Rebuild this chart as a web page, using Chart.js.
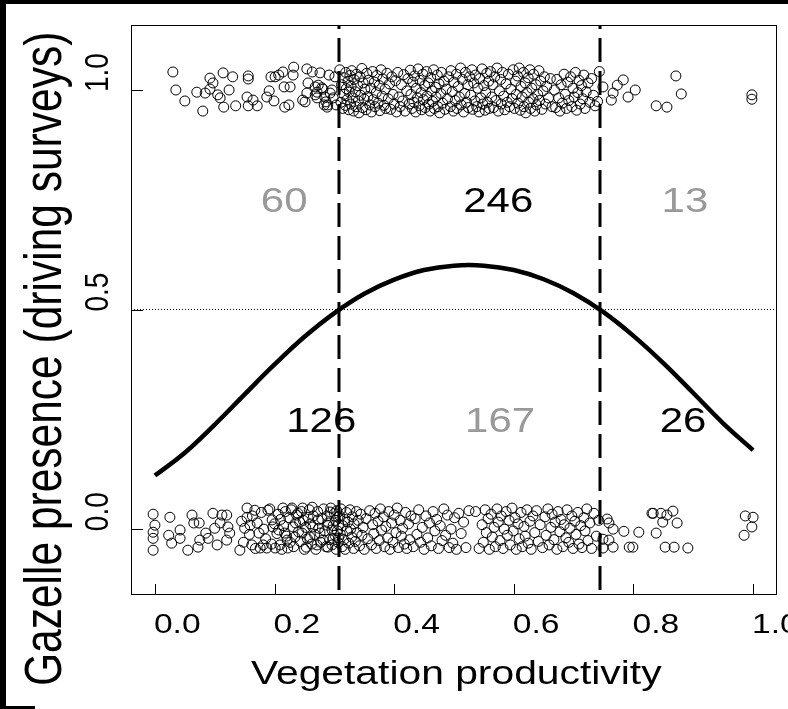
<!DOCTYPE html>
<html>
<head>
<meta charset="utf-8">
<script src="https://cdn.jsdelivr.net/npm/chart.js@4.4.1/dist/chart.umd.min.js"></script>
<style>
  body { margin: 0; background: #000; width: 788px; height: 709px; overflow: hidden; position: relative; }
  #chart { position: absolute; left: 6px; top: 4px; width: 782px; height: 705px; background: #fff; }
  #corner { position: absolute; left: 0; top: 706px; width: 35px; height: 3px; background: #000; }
</style>
</head>
<body>
<canvas id="chart" width="782" height="705"></canvas>
<div id="corner"></div>
<script>
// axis ticks
const xTicks = [0, 0.2, 0.4, 0.6, 0.8, 1.0];
const xTickLabels = ["0.0", "0.2", "0.4", "0.6", "0.8", "1.0"];
const yTicks = [0, 0.5, 1.0];
const yTickLabels = ["0.0", "0.5", "1.0"];
const xTitle = "Vegetation productivity";
const yTitle = "Gazelle presence (driving surveys)";

// thresholds where the fitted curve crosses 0.5
const thresholds = [0.3077, 0.7441];
const cutoff = 0.5;

// counts per zone
const countLabels = ["60", "246", "13", "126", "167", "26"];
const countX = [0.216, 0.574, 0.886, 0.278, 0.577, 0.883];
const countY = [0.75, 0.75, 0.75, 0.25, 0.25, 0.25];
const countCorrect = [false, true, false, true, false, true];

// fitted curve
const curveX = [0, 0.05, 0.1, 0.15, 0.2, 0.25, 0.3, 0.35, 0.4, 0.45, 0.5, 0.55, 0.6, 0.65, 0.7, 0.75, 0.8, 0.85, 0.9, 0.95, 1.0];
const curveY = [0.122, 0.174, 0.238, 0.307, 0.375, 0.438, 0.492, 0.536, 0.568, 0.590, 0.600, 0.600, 0.590, 0.569, 0.537, 0.494, 0.440, 0.378, 0.310, 0.241, 0.180];

// surveys with gazelles (jittered around 1)
const presencePoints = [
  [.030,1.041],[.035,1.000],[.050,.975],[.070,.995],[.080,.952],[.084,.993],[.092,1.027],[.097,1.016],[.092,1.002],[.105,.989],
  [.109,.982],[.114,1.039],[.115,.961],[.124,1.000],[.130,1.030],[.135,.964],[.156,1.032],[.156,1.025],[.154,.984],[.156,.964],
  [.164,.977],[.171,.964],[.187,.984],[.191,.998],[.194,1.030],[.199,.975],[.201,1.030],[.207,1.034],[.214,1.041],[.217,.961],
  [.216,1.007],[.224,.966],[.226,1.007],[.232,1.052],[.231,1.034],[.247,.977],[.254,1.048],[.256,1.016],[.263,1.041],[.254,.993],
  [.268,.989],[.271,.995],[.271,.982],[.279,1.005],[.284,.984],[.288,.961],[.289,.966],[.291,1.034],[.296,1.000],[.298,.982],
  [.273,1.011],[.283,.966],[.286,.973],[.281,1.002],[.293,.993],[.301,1.030],[.303,.966],[.251,.973],[.268,1.007],[.276,1.039],
  [.309,1.046],[.311,.972],[.312,1.012],[.314,.958],[.315,1.028],[.316,.990],[.318,.965],[.319,1.040],[.320,1.003],[.321,.978],
  [.323,1.020],[.324,.955],[.325,.995],[.326,1.033],
  [.327,.968],[.328,1.008],[.329,1.044],[.331,.982],[.332,.952],[.333,1.024],[.335,.996],[.336,.962],[.337,1.036],[.339,1.010],
  [.340,.975],[.341,.948],[.343,1.030],[.344,.988],[.346,1.049],[.347,.960],[.348,1.016],[.350,.979],[.351,1.002],[.353,.955],
  [.354,1.038],[.356,.985],[.357,1.022],[.359,.966],
  [.361,1.004],[.362,.950],[.364,1.042],[.365,.978],[.367,1.018],[.368,.962],[.370,.994],[.371,1.033],[.373,.970],[.375,1.010],
  [.376,.953],[.378,1.046],[.380,.986],[.381,1.025],[.383,.965],[.385,1.002],[.386,.958],[.388,1.038],[.390,.980],[.392,1.014],
  [.394,.956],[.396,1.030],[.398,.990],[.400,.968],[.402,1.021],[.404,.950],
  [.406,1.040],[.408,.984],[.410,.962],[.412,1.012],[.414,.975],[.416,1.035],[.418,.952],[.421,.998],[.423,1.026],[.425,.968],
  [.427,1.045],[.428,.990],[.430,.958],[.431,1.018],[.433,.972],[.434,1.032],[.436,.950],[.437,1.004],[.439,.982],[.440,1.048],
  [.442,.964],[.443,1.022],[.445,.994],[.446,.955],[.448,1.036],[.449,.978],[.451,1.010],[.452,.960],[.454,1.042],[.455,.986],
  [.457,1.016],[.458,.968],[.460,.952],[.461,1.028],[.463,.998],[.464,.974],[.466,1.046],[.467,.958],[.469,1.006],[.470,.984],
  [.472,1.034],[.473,.962],[.475,1.014],[.476,.948],[.478,.992],[.479,1.040],[.481,.970],[.483,1.020],[.485,.956],[.487,1.002],
  [.489,.980],[.491,1.030],
  [.494,.962],[.495,1.044],[.497,.996],[.499,.952],[.500,1.018],[.502,.976],[.504,1.036],[.505,.958],[.507,1.008],[.509,.984],
  [.511,1.050],[.512,.966],[.514,1.024],[.516,.950],[.518,.992],[.519,1.040],[.521,.972],[.523,1.012],[.524,.960],[.526,1.030],
  [.528,.988],[.530,1.046],[.531,.956],[.533,1.016],[.535,.975],[.536,1.034],[.538,.962],[.540,1.004],[.542,.950],[.543,1.026],
  [.545,.982],[.547,1.048],[.548,.968],[.550,1.010],[.552,.954],[.553,.994],[.555,1.038],[.556,.972],[.558,1.020],[.559,.958],
  [.561,1.042],[.563,.984],[.565,1.012],[.566,.960],[.568,1.030],[.570,.976],[.572,1.050],[.574,.952],[.576,.998],[.578,1.024],
  [.579,.968],[.581,1.040],[.583,.986],[.585,.955],[.587,1.014],[.589,.972],[.591,1.036],[.593,.962],[.595,1.002],[.597,.980],
  [.599,1.046],[.601,.958],[.603,1.020],[.604,.990],
  [.606,1.032],[.607,.970],[.609,1.050],[.611,.954],[.612,1.008],[.614,.984],[.616,1.040],[.617,.962],[.619,1.016],[.620,.948],
  [.622,.994],[.624,1.028],[.625,.972],[.627,1.046],[.628,.958],[.630,1.004],[.632,.980],[.633,1.036],[.635,.952],[.637,1.012],
  [.638,.966],[.640,.990],[.642,1.044],[.643,.976],[.645,1.020],[.647,.956],[.649,.998],[.651,1.030],[.653,.968],[.655,1.008],
  [.658,.982],[.661,1.026],[.664,.962],
  [.668,1.000],[.670,.960],[.672,1.024],[.675,.982],[.677,.952],[.679,1.012],[.681,.970],[.684,1.036],[.686,.990],[.688,.958],
  [.690,1.018],[.692,.976],[.695,1.030],[.697,.962],[.699,1.004],[.701,.984],[.703,1.040],[.705,.954],[.707,.994],[.709,1.022],
  [.711,.968],[.713,1.010],[.715,.980],[.717,1.034],[.719,.958],[.721,.996],[.724,1.016],[.727,.972],[.730,1.026],[.733,.988],
  [.736,.964],[.740,.974],[.743,1.042],
  [.749,1.007],[.763,.977],[.766,.993],[.773,1.011],[.783,1.023],[.791,.984],[.803,1.000],[.838,.964],[.856,.961],[.871,1.032],
  [.880,.991],[.998,.989],[.998,.979]
];

// surveys without gazelles (jittered around 0)
const absencePoints = [
  [-.003,.034],[0,.009],[-.003,-.007],[-.003,-.021],[-.003,-.048],[.025,.027],[.023,-.014],[.028,-.032],[.042,-.002],[.042,-.021],
  [.055,-.048],[.062,.032],[.065,.014],[.072,-.041],[.074,.014],[.075,-.025],[.085,-.009],[.089,-.021],[.097,.036],[.100,.002],
  [.104,-.036],[.109,.014],[.112,.032],[.120,.032],[.122,.005],[.125,-.009],[.120,-.025],[.142,-.048],[.154,.048],[.154,.027],
  [.159,.009],[.162,-.036],[.167,.043],[.171,.014],[.174,-.009],[.176,-.043],[.181,-.036],[.187,-.043],[.189,.043],[.196,.021],
  [.197,.005],[.201,-.043],[.207,-.002],[.209,-.036],[.214,.048],[.217,-.009],[.221,-.025],[.222,-.043],[.229,.048],[.231,.005],
  [.234,-.018],[.239,.036],[.242,.016],[.246,-.009],[.247,.048],[.253,-.041],[.256,.027],[.259,-.018],[.263,.050],[.264,.005],
  [.271,-.036],[.273,.021],[.276,-.009],[.281,-.025],[.288,.009],[.289,-.041],[.293,.039],[.296,-.002],[.298,-.021],
  [.145,.018],[.148,-.030],[.150,.002],[.158,-.012],[.163,.030],[.168,-.044],[.178,.038],[.182,.000],[.185,-.022],[.192,.046],
  [.195,-.034],[.200,.012],[.204,-.010],[.206,.034],[.210,.022],[.212,-.046],[.215,.008],[.218,.040],[.220,-.016],[.224,.026],
  [.226,-.030],[.228,.044],[.232,-.040],[.235,.014],[.237,.032],[.240,-.006],[.243,-.028],[.245,.040],[.248,.020],[.250,-.046],
  [.252,.004],[.255,-.022],[.258,.044],[.260,.012],[.262,-.034],[.265,.030],[.267,-.012],[.269,-.046],[.272,.040],[.274,.002],
  [.277,-.030],[.279,.024],[.282,.046],[.284,-.004],[.286,-.040],[.288,.030],[.290,.014],[.292,-.024],[.294,.048],[.296,-.036],
  [.298,.008],[.300,.036],[.301,-.014],[.302,.020],[.303,-.046],[.304,.042],[.305,-.004],[.306,.028],[.306,-.030],[.307,.010],
  [.307,-.020],
  [.309,.030],[.310,-.012],[.311,.046],[.313,-.040],[.314,.008],[.316,-.024],[.317,.022],[.318,-.046],[.320,.038],[.321,-.004],
  [.323,.016],[.324,-.032],[.326,.044],[.327,.000],[.329,-.018],[.330,.028],[.332,-.044],[.333,.012],[.335,-.028],[.337,.040],
  [.338,-.008],[.340,.020],[.342,-.038],[.344,.034],[.346,-.014],[.348,.004],[.350,-.046],[.353,.024],[.356,-.022],[.359,.042],
  [.362,-.036],[.364,.010],[.366,-.010],[.368,.036],[.370,-.044],[.373,.018],[.375,-.026],[.377,.046],[.379,-.002],[.382,.028],
  [.384,-.040],[.386,.006],[.389,-.020],[.391,.040],[.393,-.046],[.396,.014],[.398,-.030],[.400,.032],[.403,-.008],[.405,.048],
  [.407,-.042],[.410,.020],[.412,-.016],[.414,.002],[.417,-.034],[.419,.038],[.421,-.044],[.424,.012],[.426,-.024],[.428,.030],
  [.432,-.040],[.435,.024],[.438,-.012],[.441,.044],[.444,-.030],[.447,.004],[.450,-.046],[.453,.030],[.456,-.020],[.459,.014],
  [.462,-.038],[.465,.040],[.468,-.004],[.471,.022],[.474,-.044],[.477,.008],[.480,-.026],[.483,.046],[.486,-.014],[.489,.032],
  [.492,-.042],[.495,.000],[.498,-.032],[.501,.026],[.504,-.046],[.508,.036],[.512,-.010],[.516,.016],[.520,-.042],[.525,.042],
  [.536,.040],[.542,-.044],
  [.547,.010],[.549,-.030],[.552,.044],[.554,-.008],[.557,.024],[.559,-.046],[.562,.034],[.564,-.018],[.567,.004],[.569,-.040],
  [.572,.046],[.574,.016],[.577,-.026],[.579,.030],[.582,-.044],[.584,.000],[.587,.040],[.589,-.014],[.592,.020],[.594,-.036],
  [.597,.048],[.599,-.004],[.602,.026],[.604,-.046],[.607,.012],[.609,-.022],[.612,.038],[.614,-.040],[.617,.006],[.619,-.016],
  [.622,.044],[.624,-.032],[.627,.018],[.629,-.046],[.632,.030],[.635,-.008],[.638,.042],[.641,-.028],[.644,.010],[.648,-.042],
  [.652,.028],[.654,-.014],[.657,.046],[.659,-.036],[.662,.004],[.664,.034],[.667,-.024],[.669,.016],[.672,-.046],[.674,.040],
  [.677,-.006],[.679,.022],[.682,-.040],[.684,.010],[.687,-.020],[.689,.044],[.692,-.030],[.694,.002],[.697,.030],[.699,-.044],
  [.702,.018],[.704,-.012],[.707,.038],[.709,-.034],[.712,.008],[.714,-.042],[.717,.026],[.719,-.004],[.722,.046],[.724,-.026],
  [.727,.014],[.730,-.044],[.734,.036],[.738,-.016],[.742,.020],
  [.756,.023],[.759,.014],[.766,.000],[.759,-.025],[.749,-.023],[.766,-.041],[.749,-.043],[.784,-.005],[.793,-.041],[.799,-.041],
  [.809,-.007],[.831,.036],[.833,.036],[.846,.036],[.849,.016],[.856,.032],[.866,.041],[.873,.014],[.838,-.009],[.853,-.041],
  [.868,-.041],[.891,-.043],[.987,.030],[1.0,.027],[.998,.005],[.985,-.014]
];

const FONT = "'Liberation Sans', Arial, sans-serif";
const STRETCH = 1.2; // text in the picture is drawn wider than it is tall

function drawText(ctx, s, x, y, size, color, align, rotated) {
  ctx.save();
  ctx.translate(x, y);
  ctx.scale(STRETCH, 1);
  if (rotated) ctx.rotate(-Math.PI / 2);
  ctx.font = size + "px " + FONT;
  ctx.fillStyle = color;
  ctx.textAlign = align;
  ctx.textBaseline = "alphabetic";
  ctx.fillText(s, 0, 0);
  ctx.restore();
}

const decorPlugin = {
  id: "decor",
  afterDraw(chart) {
    const ctx = chart.ctx;
    const a = chart.chartArea;
    const xs = chart.scales.x, ys = chart.scales.y;

    // box
    ctx.save();
    ctx.strokeStyle = "#000";
    ctx.lineWidth = 1;
    ctx.strokeRect(a.left + 0.5, a.top + 0.5, a.right - a.left - 1, a.bottom - a.top - 1);

    // inward ticks
    ctx.beginPath();
    xTicks.forEach(v => {
      const px = Math.round(xs.getPixelForValue(v)) + 0.5;
      ctx.moveTo(px, a.bottom);
      ctx.lineTo(px, a.bottom - 11);
    });
    yTicks.forEach(v => {
      const py = Math.round(ys.getPixelForValue(v)) + 0.5;
      ctx.moveTo(a.left, py);
      ctx.lineTo(a.left + 12, py);
    });
    ctx.stroke();
    ctx.restore();

    // tick labels
    xTicks.forEach((v, i) => {
      drawText(ctx, xTickLabels[i], xs.getPixelForValue(v) - 1, a.bottom + 38, 28, "#000", "left", false);
    });
    yTicks.forEach((v, i) => {
      drawText(ctx, yTickLabels[i], a.left - 23, ys.getPixelForValue(v) + 2, 28, "#000", "left", true);
    });

    // axis titles
    drawText(ctx, xTitle, 245, 680, 34, "#000", "left", false);
    drawText(ctx, yTitle, 55, 682, 42.5, "#000", "left", true);

    // zone counts
    countLabels.forEach((s, i) => {
      const px = xs.getPixelForValue(countX[i]);
      const py = ys.getPixelForValue(countY[i]);
      drawText(ctx, s, px, py + 0.358 * 35, 35, countCorrect[i] ? "#000" : "#999999", "center", false);
    });
  }
};

const xMin = -0.04, xMax = 1.04, yMin = -0.15, yMax = 1.148;

new Chart(document.getElementById("chart"), {
  type: "scatter",
  data: {
    datasets: [
      {
        data: presencePoints.map(p => ({ x: p[0], y: p[1] })),
        pointStyle: "circle",
        pointRadius: 5,
        borderWidth: 1,
        borderColor: "#000",
        backgroundColor: "rgba(0,0,0,0)"
      },
      {
        data: absencePoints.map(p => ({ x: p[0], y: p[1] })),
        pointStyle: "circle",
        pointRadius: 5,
        borderWidth: 1,
        borderColor: "#000",
        backgroundColor: "rgba(0,0,0,0)"
      },
      {
        type: "line",
        data: curveX.map((x, i) => ({ x: x, y: curveY[i] })),
        borderColor: "#000",
        borderWidth: 4.5,
        pointRadius: 0,
        tension: 0.4,
        fill: false
      },
      {
        type: "line",
        data: [{ x: thresholds[0], y: yMax }, { x: thresholds[0], y: yMin }],
        borderColor: "#000",
        borderWidth: 3,
        borderDash: [24, 9],
        borderDashOffset: 20,
        pointRadius: 0
      },
      {
        type: "line",
        data: [{ x: thresholds[1], y: yMax }, { x: thresholds[1], y: yMin }],
        borderColor: "#000",
        borderWidth: 3,
        borderDash: [24, 9],
        borderDashOffset: 20,
        pointRadius: 0
      },
      {
        type: "line",
        data: [{ x: xMin, y: cutoff }, { x: xMax, y: cutoff }],
        borderColor: "#000",
        borderWidth: 1,
        borderDash: [1, 2],
        pointRadius: 0
      }
    ]
  },
  options: {
    responsive: false,
    animation: false,
    devicePixelRatio: 1,
    layout: { padding: { left: 0, top: 21, right: 11, bottom: 0 } },
    plugins: {
      legend: { display: false },
      tooltip: { enabled: false }
    },
    scales: {
      x: {
        type: "linear",
        min: xMin,
        max: xMax,
        grid: { display: false },
        border: { display: false },
        ticks: { display: false },
        afterFit: s => { s.height = 114; }
      },
      y: {
        type: "linear",
        min: yMin,
        max: yMax,
        grid: { display: false },
        border: { display: false },
        ticks: { display: false },
        afterFit: s => { s.width = 125; }
      }
    }
  },
  plugins: [decorPlugin]
});
</script>
</body>
</html>
